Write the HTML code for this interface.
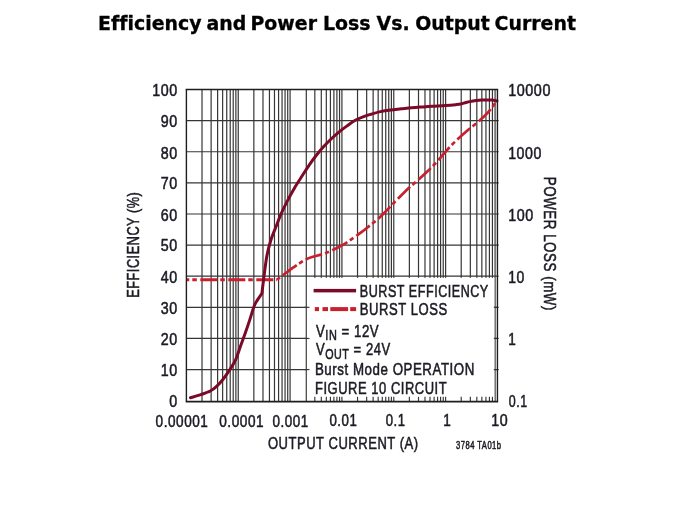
<!DOCTYPE html>
<html lang="en"><head><meta charset="utf-8"><title>Efficiency and Power Loss Vs. Output Current</title>
<style>html,body{margin:0;padding:0;background:#fff;}body{width:675px;height:506px;overflow:hidden;position:relative;}svg{display:block;position:absolute;left:0;top:0;}text{font-family:"Liberation Sans",sans-serif;fill:#1b1b24;stroke:#1b1b24;stroke-width:0.55px;letter-spacing:0.7px;font-variant-ligatures:none;font-kerning:normal;}.t{font-family:"DejaVu Sans","Liberation Sans",sans-serif;font-weight:bold;fill:#000;stroke:#000;stroke-width:0.3px;letter-spacing:0;}</style></head><body>
<svg width="675" height="506" viewBox="0 0 675 506" role="img" aria-label="Efficiency and Power Loss Vs. Output Current">
<rect width="675" height="506" fill="#fff"/>
<g stroke="#363636" stroke-width="1.2" fill="none">
<line x1="186.40" y1="120.62" x2="497.45" y2="120.62"/>
<line x1="186.40" y1="151.74" x2="497.45" y2="151.74"/>
<line x1="186.40" y1="182.86" x2="497.45" y2="182.86"/>
<line x1="186.40" y1="213.98" x2="497.45" y2="213.98"/>
<line x1="186.40" y1="245.10" x2="497.45" y2="245.10"/>
<line x1="186.40" y1="276.22" x2="497.45" y2="276.22"/>
<line x1="186.40" y1="307.34" x2="497.45" y2="307.34"/>
<line x1="186.40" y1="338.46" x2="497.45" y2="338.46"/>
<line x1="186.40" y1="369.58" x2="497.45" y2="369.58"/>
<line x1="202.01" y1="89.50" x2="202.01" y2="401.60"/>
<line x1="211.13" y1="89.50" x2="211.13" y2="401.60"/>
<line x1="217.61" y1="89.50" x2="217.61" y2="401.60"/>
<line x1="222.64" y1="89.50" x2="222.64" y2="401.60"/>
<line x1="226.74" y1="89.50" x2="226.74" y2="401.60"/>
<line x1="230.21" y1="89.50" x2="230.21" y2="401.60"/>
<line x1="233.22" y1="89.50" x2="233.22" y2="401.60"/>
<line x1="235.87" y1="89.50" x2="235.87" y2="401.60"/>
<line x1="238.24" y1="89.50" x2="238.24" y2="401.60"/>
<line x1="253.85" y1="89.50" x2="253.85" y2="401.60"/>
<line x1="262.98" y1="89.50" x2="262.98" y2="401.60"/>
<line x1="269.45" y1="89.50" x2="269.45" y2="401.60"/>
<line x1="274.48" y1="89.50" x2="274.48" y2="401.60"/>
<line x1="278.58" y1="89.50" x2="278.58" y2="401.60"/>
<line x1="282.05" y1="89.50" x2="282.05" y2="401.60"/>
<line x1="285.06" y1="89.50" x2="285.06" y2="401.60"/>
<line x1="287.71" y1="89.50" x2="287.71" y2="401.60"/>
<line x1="290.08" y1="89.50" x2="290.08" y2="401.60"/>
<line x1="306.30" y1="89.50" x2="306.30" y2="401.60"/>
<line x1="314.82" y1="89.50" x2="314.82" y2="401.60"/>
<line x1="321.30" y1="89.50" x2="321.30" y2="401.60"/>
<line x1="326.32" y1="89.50" x2="326.32" y2="401.60"/>
<line x1="330.42" y1="89.50" x2="330.42" y2="401.60"/>
<line x1="333.89" y1="89.50" x2="333.89" y2="401.60"/>
<line x1="336.90" y1="89.50" x2="336.90" y2="401.60"/>
<line x1="339.55" y1="89.50" x2="339.55" y2="401.60"/>
<line x1="341.92" y1="89.50" x2="341.92" y2="401.60"/>
<line x1="357.53" y1="89.50" x2="357.53" y2="401.60"/>
<line x1="366.66" y1="89.50" x2="366.66" y2="401.60"/>
<line x1="373.14" y1="89.50" x2="373.14" y2="401.60"/>
<line x1="378.16" y1="89.50" x2="378.16" y2="401.60"/>
<line x1="382.27" y1="89.50" x2="382.27" y2="401.60"/>
<line x1="385.74" y1="89.50" x2="385.74" y2="401.60"/>
<line x1="388.74" y1="89.50" x2="388.74" y2="401.60"/>
<line x1="391.39" y1="89.50" x2="391.39" y2="401.60"/>
<line x1="393.77" y1="89.50" x2="393.77" y2="401.60"/>
<line x1="409.37" y1="89.50" x2="409.37" y2="401.60"/>
<line x1="418.50" y1="89.50" x2="418.50" y2="401.60"/>
<line x1="424.98" y1="89.50" x2="424.98" y2="401.60"/>
<line x1="430.00" y1="89.50" x2="430.00" y2="401.60"/>
<line x1="434.11" y1="89.50" x2="434.11" y2="401.60"/>
<line x1="437.58" y1="89.50" x2="437.58" y2="401.60"/>
<line x1="440.58" y1="89.50" x2="440.58" y2="401.60"/>
<line x1="443.24" y1="89.50" x2="443.24" y2="401.60"/>
<line x1="445.61" y1="89.50" x2="445.61" y2="401.60"/>
<line x1="461.21" y1="89.50" x2="461.21" y2="401.60"/>
<line x1="470.34" y1="89.50" x2="470.34" y2="401.60"/>
<line x1="476.82" y1="89.50" x2="476.82" y2="401.60"/>
<line x1="481.84" y1="89.50" x2="481.84" y2="401.60"/>
<line x1="485.95" y1="89.50" x2="485.95" y2="401.60"/>
<line x1="489.42" y1="89.50" x2="489.42" y2="401.60"/>
<line x1="492.43" y1="89.50" x2="492.43" y2="401.60"/>
<line x1="495.08" y1="89.50" x2="495.08" y2="401.60"/>
</g>
<path d="M186.40 279.70 L277.00 279.70" fill="none" stroke="#c9202e" stroke-width="3.1" stroke-dasharray="4.5 3.5 17 3" stroke-dashoffset="22.1"/>
<path d="M277.00 279.70 C278.62 278.48 283.12 275.02 286.70 272.40 C290.28 269.78 294.95 266.33 298.50 264.00 C302.05 261.67 304.05 260.03 308.00 258.40 C311.95 256.77 318.30 255.48 322.20 254.20 C326.10 252.92 328.02 252.20 331.40 250.70 C334.78 249.20 338.82 247.33 342.50 245.20 C346.18 243.07 350.33 240.07 353.50 237.90 C356.67 235.73 358.85 234.20 361.50 232.20 C364.15 230.20 366.77 228.02 369.40 225.90 C372.03 223.78 374.67 221.82 377.30 219.50 C379.93 217.18 382.18 215.03 385.20 212.00 C388.22 208.97 391.98 204.82 395.40 201.30 C398.82 197.78 402.25 194.18 405.70 190.90 C409.15 187.62 412.63 184.72 416.10 181.60 C419.57 178.48 423.03 175.48 426.50 172.20 C429.97 168.92 433.45 165.63 436.90 161.90 C440.35 158.17 443.75 153.57 447.20 149.80 C450.65 146.03 454.13 142.60 457.60 139.30 C461.07 136.00 464.68 132.80 468.00 130.00 C471.32 127.20 475.22 124.42 477.50 122.50 C479.78 120.58 480.13 119.97 481.70 118.50 C483.27 117.03 485.18 115.53 486.90 113.70 C488.62 111.87 490.68 109.18 492.00 107.50 C493.32 105.82 493.97 104.72 494.80 103.60 C495.63 102.48 496.63 101.27 497.00 100.80" fill="none" stroke="#c9202e" stroke-width="2.7" stroke-dasharray="4.5 3.5 17 3" stroke-dashoffset="0.7" stroke-linejoin="round"/>
<path d="M190.50 397.80 C192.22 397.27 197.50 395.73 200.80 394.60 C204.10 393.47 207.67 392.38 210.30 391.00 C212.93 389.62 214.50 388.22 216.60 386.30 C218.70 384.38 220.78 382.15 222.90 379.50 C225.02 376.85 227.18 373.68 229.30 370.40 C231.42 367.12 233.77 363.73 235.60 359.80 C237.43 355.87 238.72 351.17 240.30 346.80 C241.88 342.43 243.57 337.97 245.10 333.60 C246.63 329.23 247.98 325.20 249.50 320.60 C251.02 316.00 252.83 309.50 254.20 306.00 C255.57 302.50 256.42 301.70 257.70 299.60 C258.98 297.50 261.20 294.43 261.90 293.40 L261.90 293.40 C262.18 291.08 262.77 285.77 263.60 279.50 C264.43 273.23 265.68 262.38 266.90 255.80 C268.12 249.22 269.45 244.67 270.90 240.00 C272.35 235.33 273.90 232.15 275.60 227.80 C277.30 223.45 279.13 218.38 281.10 213.90 C283.07 209.42 285.17 205.23 287.40 200.90 C289.63 196.57 292.00 192.13 294.50 187.90 C297.00 183.67 299.90 179.38 302.40 175.50 C304.90 171.62 307.27 167.85 309.50 164.60 C311.73 161.35 313.43 159.00 315.80 156.00 C318.17 153.00 321.07 149.52 323.70 146.60 C326.33 143.68 328.97 141.00 331.60 138.50 C334.23 136.00 336.87 133.75 339.50 131.60 C342.13 129.45 344.77 127.48 347.40 125.60 C350.03 123.72 352.67 121.77 355.30 120.30 C357.93 118.83 360.57 117.82 363.20 116.80 C365.83 115.78 368.23 115.07 371.10 114.20 C373.97 113.33 377.13 112.32 380.40 111.60 C383.67 110.88 387.25 110.36 390.70 109.90 C394.15 109.44 397.63 109.20 401.10 108.85 C404.57 108.50 408.03 108.11 411.50 107.80 C414.97 107.49 418.45 107.25 421.90 107.00 C425.35 106.75 428.28 106.53 432.20 106.30 C436.12 106.07 441.48 105.87 445.40 105.60 C449.32 105.33 453.12 104.97 455.70 104.70 C458.28 104.43 459.17 104.37 460.90 104.00 C462.63 103.63 464.37 102.93 466.10 102.50 C467.83 102.07 469.57 101.73 471.30 101.40 C473.03 101.07 474.77 100.73 476.50 100.50 C478.23 100.27 479.97 100.10 481.70 100.00 C483.43 99.90 485.18 99.88 486.90 99.90 C488.62 99.92 490.32 99.92 492.00 100.10 C493.68 100.28 496.17 100.85 497.00 101.00" fill="none" stroke="#7a0a28" stroke-width="3" stroke-linejoin="round" stroke-linecap="round"/>
<rect x="306.95" y="277.82" width="187.35" height="123.78" fill="#fff"/>
<g stroke="#363636" stroke-width="1.15" fill="none">
<line x1="314.82" y1="396.80" x2="314.82" y2="401.60"/>
<line x1="321.30" y1="396.80" x2="321.30" y2="401.60"/>
<line x1="326.32" y1="396.80" x2="326.32" y2="401.60"/>
<line x1="330.42" y1="396.80" x2="330.42" y2="401.60"/>
<line x1="333.89" y1="396.80" x2="333.89" y2="401.60"/>
<line x1="336.90" y1="396.80" x2="336.90" y2="401.60"/>
<line x1="339.55" y1="396.80" x2="339.55" y2="401.60"/>
<line x1="341.92" y1="396.80" x2="341.92" y2="401.60"/>
<line x1="357.53" y1="396.80" x2="357.53" y2="401.60"/>
<line x1="366.66" y1="396.80" x2="366.66" y2="401.60"/>
<line x1="373.14" y1="396.80" x2="373.14" y2="401.60"/>
<line x1="378.16" y1="396.80" x2="378.16" y2="401.60"/>
<line x1="382.27" y1="396.80" x2="382.27" y2="401.60"/>
<line x1="385.74" y1="396.80" x2="385.74" y2="401.60"/>
<line x1="388.74" y1="396.80" x2="388.74" y2="401.60"/>
<line x1="391.39" y1="396.80" x2="391.39" y2="401.60"/>
<line x1="393.77" y1="396.80" x2="393.77" y2="401.60"/>
<line x1="409.37" y1="396.80" x2="409.37" y2="401.60"/>
<line x1="418.50" y1="396.80" x2="418.50" y2="401.60"/>
<line x1="424.98" y1="396.80" x2="424.98" y2="401.60"/>
<line x1="430.00" y1="396.80" x2="430.00" y2="401.60"/>
<line x1="434.11" y1="396.80" x2="434.11" y2="401.60"/>
<line x1="437.58" y1="396.80" x2="437.58" y2="401.60"/>
<line x1="440.58" y1="396.80" x2="440.58" y2="401.60"/>
<line x1="443.24" y1="396.80" x2="443.24" y2="401.60"/>
<line x1="445.61" y1="396.80" x2="445.61" y2="401.60"/>
<line x1="461.21" y1="396.80" x2="461.21" y2="401.60"/>
<line x1="470.34" y1="396.80" x2="470.34" y2="401.60"/>
<line x1="476.82" y1="396.80" x2="476.82" y2="401.60"/>
<line x1="481.84" y1="396.80" x2="481.84" y2="401.60"/>
<line x1="485.95" y1="396.80" x2="485.95" y2="401.60"/>
<line x1="489.42" y1="396.80" x2="489.42" y2="401.60"/>
<line x1="492.43" y1="396.80" x2="492.43" y2="401.60"/>
<line x1="497.45" y1="120.62" x2="498.65" y2="120.62"/>
<line x1="497.45" y1="151.74" x2="498.65" y2="151.74"/>
<line x1="497.45" y1="182.86" x2="498.65" y2="182.86"/>
<line x1="497.45" y1="213.98" x2="498.65" y2="213.98"/>
<line x1="497.45" y1="245.10" x2="498.65" y2="245.10"/>
<line x1="497.45" y1="276.22" x2="498.65" y2="276.22"/>
<line x1="304.30" y1="307.34" x2="309.50" y2="307.34"/>
<line x1="493.85" y1="307.34" x2="498.65" y2="307.34"/>
<line x1="304.30" y1="338.46" x2="309.50" y2="338.46"/>
<line x1="493.85" y1="338.46" x2="498.65" y2="338.46"/>
<line x1="304.30" y1="369.58" x2="309.50" y2="369.58"/>
<line x1="493.85" y1="369.58" x2="498.65" y2="369.58"/>
</g>
<g stroke="#1e1e1e" fill="none">
<line x1="185.70" y1="89.50" x2="498.15" y2="89.50" stroke-width="1.4"/>
<line x1="185.70" y1="401.60" x2="498.15" y2="401.60" stroke-width="1.7"/>
<line x1="186.40" y1="89.50" x2="186.40" y2="401.60" stroke-width="1.4"/>
<line x1="497.45" y1="89.50" x2="497.45" y2="401.60" stroke-width="1.4"/>
</g>
<rect x="313.6" y="288.9" width="42.5" height="3.5" fill="#7a0a28"/>
<rect x="314.8" y="307.1" width="4.2" height="4" fill="#c9202e"/>
<rect x="322.5" y="307.1" width="5.5" height="4" fill="#c9202e"/>
<rect x="330.3" y="307.1" width="17.8" height="4" fill="#c9202e"/>
<rect x="350.2" y="307.1" width="5.9" height="4" fill="#c9202e"/>
<text class="t" font-size="18.67" transform="translate(0 29.70) scale(1.014 1)" xml:space="preserve"><tspan x="96.77">Efficiency</tspan> <tspan x="203.58">and</tspan> <tspan x="247.00">Power</tspan> <tspan x="318.48">Loss</tspan> <tspan x="371.31">Vs.</tspan> <tspan x="409.44">Output</tspan> <tspan x="487.73">Current</tspan></text>
<text transform="translate(152.22 95.80) scale(0.8400 1)" font-size="17.00">100</text>
<text transform="translate(160.73 127.00) scale(0.8400 1)" font-size="17.00">90</text>
<text transform="translate(160.73 158.60) scale(0.8400 1)" font-size="17.00">80</text>
<text transform="translate(160.73 189.20) scale(0.8400 1)" font-size="17.00">70</text>
<text transform="translate(160.73 220.90) scale(0.8400 1)" font-size="17.00">60</text>
<text transform="translate(160.73 250.60) scale(0.8400 1)" font-size="17.00">50</text>
<text transform="translate(160.73 282.60) scale(0.8400 1)" font-size="17.00">40</text>
<text transform="translate(160.73 313.70) scale(0.8400 1)" font-size="17.00">30</text>
<text transform="translate(160.73 345.00) scale(0.8400 1)" font-size="17.00">20</text>
<text transform="translate(160.73 375.90) scale(0.8400 1)" font-size="17.00">10</text>
<text transform="translate(169.34 406.70) scale(0.8400 1)" font-size="17.00">0</text>
<text transform="translate(508.15 95.70) scale(0.8452 1)" font-size="17.00">10000</text>
<text transform="translate(508.17 159.30) scale(0.8312 1)" font-size="17.00">1000</text>
<text transform="translate(508.16 221.30) scale(0.8423 1)" font-size="17.00">100</text>
<text transform="translate(508.18 282.50) scale(0.8219 1)" font-size="17.00">10</text>
<text transform="translate(508.20 344.60) scale(0.8000 1)" font-size="17.00">1</text>
<text transform="translate(508.72 407.00) scale(0.7337 1)" font-size="17.00">0.1</text>
<text transform="translate(155.60 427.00) scale(0.7969 1)" font-size="17.00">0.00001</text>
<text transform="translate(219.20 427.00) scale(0.8000 1)" font-size="17.00">0.0001</text>
<text transform="translate(272.50 427.00) scale(0.7887 1)" font-size="17.00">0.001</text>
<text transform="translate(329.41 426.20) scale(0.7796 1)" font-size="17.00">0.01</text>
<text transform="translate(385.71 426.00) scale(0.7710 1)" font-size="17.00">0.1</text>
<text transform="translate(443.30 426.00) scale(0.8000 1)" font-size="17.00">1</text>
<text transform="translate(491.26 426.00) scale(0.8384 1)" font-size="17.00">10</text>
<text transform="translate(267.92 448.90) scale(0.7657 1)" font-size="17.00">OUTPUT CURRENT (A)</text>
<text transform="translate(456.01 448.90) scale(0.6921 1)" font-size="11.00">3784 TA01b</text>
<text transform="translate(359.87 296.90) scale(0.7403 1)" font-size="17.00">BURST EFFICIENCY</text>
<text transform="translate(359.83 315.40) scale(0.7696 1)" font-size="17.00">BURST LOSS</text>
<text transform="translate(315.99 336.50) scale(0.7790 1)" font-size="17.00">V<tspan font-size="14" dy="3.6">IN</tspan><tspan dy="-3.6"> = 12V</tspan></text>
<text transform="translate(315.99 355.20) scale(0.7661 1)" font-size="17.00">V<tspan font-size="14" dy="3.8">OUT</tspan><tspan dy="-3.8"> = 24V</tspan></text>
<text transform="translate(314.92 374.50) scale(0.7831 1)" font-size="17.00">Burst Mode OPERATION</text>
<text transform="translate(314.94 393.50) scale(0.7633 1)" font-size="17.00">FIGURE 10 CIRCUIT</text>
<text transform="translate(139.30 297.74) rotate(-90) scale(0.7490 1)" font-size="17.00">EFFICIENCY (%)</text>
<text transform="translate(544.00 176.82) rotate(90) scale(0.7846 1)" font-size="17.00">POWER LOSS (mW)</text>
</svg>
</body></html>
